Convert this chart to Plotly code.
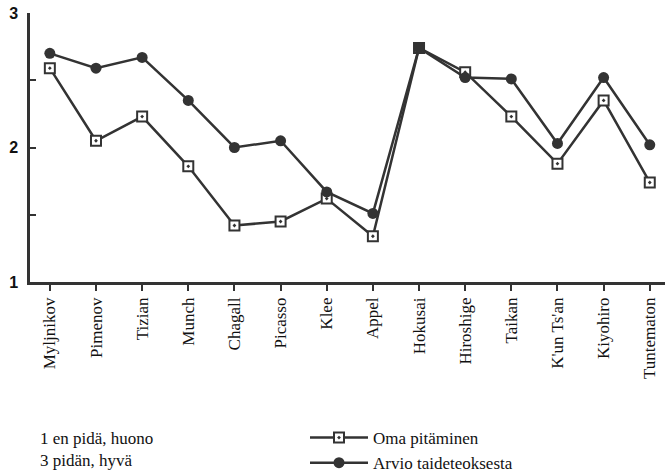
import plotly.graph_objects as go

categories = ["Myljnikov", "Pimenov", "Tizian", "Munch", "Chagall", "Picasso", "Klee",
              "Appel", "Hokusai", "Hiroshige", "Taikan", "K'un Ts'an", "Kiyohiro", "Tuntematon"]
oma = [2.59, 2.05, 2.23, 1.86, 1.42, 1.45, 1.62, 1.34, 2.74, 2.56, 2.23, 1.88, 2.35, 1.74]
arvio = [2.70, 2.59, 2.67, 2.35, 2.00, 2.05, 1.67, 1.51, 2.74, 2.52, 2.51, 2.03, 2.52, 2.02]
ytick_vals = [1, 1.5, 2, 2.5, 3]
ytick_text = ["1", "", "2", "", "3"]

dark = "#333333"
serif = "Liberation Serif, DejaVu Serif, serif"

W, H = 670, 473
L, T, R, B = 30, 13, 5, 191
pw, ph = W - L - R, H - T - B

fig = go.Figure()
fig.add_trace(go.Scatter(
    x=list(range(len(categories))), y=oma, mode="lines+markers", name="Oma pitäminen",
    line=dict(color=dark, width=2.5),
    marker=dict(symbol="square-dot", size=10, color="white", line=dict(color=dark, width=2)),
))
fig.add_trace(go.Scatter(
    x=list(range(len(categories))), y=arvio, mode="lines+markers", name="Arvio taideteoksesta",
    line=dict(color=dark, width=2.5),
    marker=dict(symbol="circle", size=11, color=dark),
))

fig.update_layout(
    width=W, height=H,
    margin=dict(l=L, r=R, t=T, b=B, autoexpand=False),
    paper_bgcolor="white", plot_bgcolor="white",
    showlegend=True,
    legend=dict(x=(305 - L) / pw, y=-(420 - (T + ph)) / ph, xanchor="left", yanchor="top",
                font=dict(family=serif, size=17, color="#111"),
                bgcolor="rgba(0,0,0,0)", itemwidth=58, tracegroupgap=6),
    xaxis=dict(
        range=[-0.43, 13.33], tickmode="array", automargin=False,
        tickvals=list(range(len(categories))), ticktext=categories,
        tickangle=-90, ticks="outside", ticklen=6, tickwidth=2, tickcolor=dark,
        showline=True, linecolor=dark, linewidth=2.5, showgrid=False, zeroline=False,
        tickfont=dict(family=serif, size=17, color="#111"),
    ),
    yaxis=dict(
        range=[1, 3], tickmode="array", tickvals=ytick_vals, ticktext=ytick_text,
        automargin=False, ticklabelstandoff=6,
        ticks="inside", ticklen=6, tickwidth=2, tickcolor=dark,
        showline=True, linecolor=dark, linewidth=2.5, showgrid=False, zeroline=False,
        tickfont=dict(family="Liberation Sans, Arial, sans-serif", size=16, color="#111",
                      weight="bold"),
    ),
    annotations=[
        dict(text="1 en pidä, huono<br>3 pidän, hyvä", xref="paper", yref="paper",
             x=(38 - L) / pw, y=-(427 - (T + ph)) / ph, xanchor="left", yanchor="top",
             align="left", showarrow=False, font=dict(family=serif, size=17, color="#111")),
    ],
)

fig.write_html("out.html", config={"responsive": False, "displayModeBar": False},
               post_script="document.body.style.margin='0';document.body.style.overflow='hidden';")
